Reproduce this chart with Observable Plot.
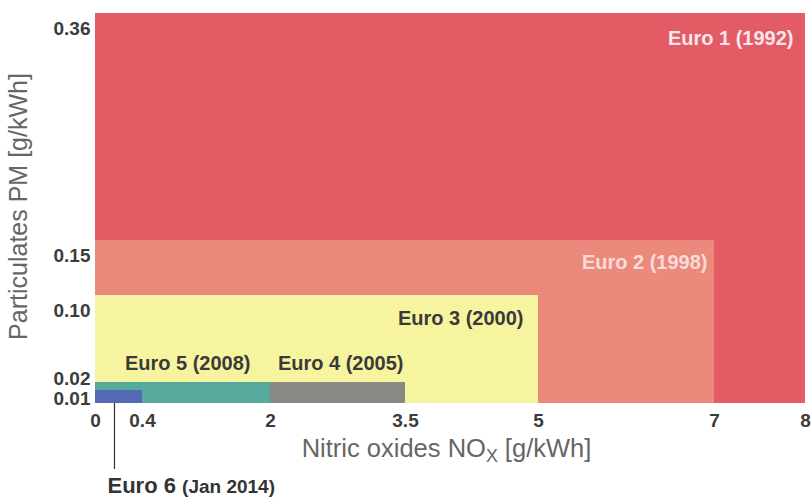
<!DOCTYPE html>
<html><head><meta charset="utf-8">
<script src="https://cdn.jsdelivr.net/npm/d3@7"></script>
<script src="https://cdn.jsdelivr.net/npm/@observablehq/plot@0.6"></script>
<style>body{margin:0;background:#fff}</style>
</head><body><div id="chart"></div>
<script>
const stages = ["Euro 1", "Euro 2", "Euro 3", "Euro 4", "Euro 5", "Euro 6"];
const years = ["(1992)", "(1998)", "(2000)", "(2005)", "(2008)", "(Jan 2014)"];
const noxLimit = [8, 7, 5, 3.5, 2, 0.4];
const pmLimit = [0.36, 0.15, 0.10, 0.02, 0.02, 0.01];
const colors = ["#e35b65", "#ec897d", "#f7f4a0", "#888884", "#55aa9d", "#5468b4"];
const xTicks = [0, 0.4, 2, 3.5, 5, 7, 8];
const yTicks = [0.01, 0.02, 0.10, 0.15, 0.36];
const xTitle = ["Nitric oxides NO", "X", " [g/kWh]"];
const yTitle = "Particulates PM [g/kWh]";

const data = stages.map((s, i) => ({stage: s, year: years[i], label: s + " " + years[i], nox: noxLimit[i], pm: pmLimit[i], color: colors[i]}));
const pick = (i) => [data[i]];
const font = "'Liberation Sans', Arial, sans-serif";
const lab = {x: "nox", y: "pm", text: "label", textAnchor: "end", fontSize: 20, fontWeight: "bold"};
const tickStyle = {tickSize: 0, fontSize: 19, fontWeight: "bold", fill: "#3c3c3c", label: null};

const plot = Plot.plot({
  width: 811, height: 497,
  marginTop: 13, marginBottom: 94, marginLeft: 95, marginRight: 6,
  style: {fontFamily: font, background: "white", overflow: "visible"},
  x: {type: "linear", domain: xTicks, range: [95, 142, 270, 405, 538, 714, 805]},
  y: {type: "linear", domain: [0, ...yTicks], range: [403, 390, 382, 295, 240, 13]},
  marks: [
    Plot.rect(data, {x1: 0, x2: "nox", y1: 0, y2: "pm", fill: "color"}),
    Plot.text(pick(0), {...lab, fill: "#f6e6ec", dx: -12, dy: 25}),
    Plot.text(pick(1), {...lab, fill: "#f8dcd8", dx: -7, dy: 22}),
    Plot.text(pick(2), {...lab, fill: "#3a3a3a", dx: -15, dy: 23}),
    Plot.text(pick(3), {...lab, fill: "#3a3a3a", dx: -2, dy: -19}),
    Plot.text(pick(4), {...lab, fill: "#3a3a3a", dx: -20, dy: -19}),
    Plot.ruleX([0], {y1: 0, y2: 0, dx: 19, insetBottom: -66, stroke: "#333", strokeWidth: 1.2}),
    Plot.text(pick(5), {x: 0, y: 0, text: "label", textAnchor: "start", dx: 12, dy: 82, fontSize: 22, fontWeight: "bold", fill: "#333"}),
    Plot.axisX(xTicks, {...tickStyle, tickPadding: 10, tickFormat: d3.format("~g")}),
    Plot.axisY([0.36, 0.15, 0.10], {...tickStyle, tickPadding: 5, dy: 15, tickFormat: d3.format(".2f")}),
    Plot.axisY([0.02], {...tickStyle, tickPadding: 5, dy: -4, tickFormat: d3.format(".2f")}),
    Plot.axisY([0.01], {...tickStyle, tickPadding: 5, dy: 8, tickFormat: d3.format(".2f")}),
    Plot.text([xTitle.join("")], {frameAnchor: "bottom", lineAnchor: "middle", dx: -4, dy: 45, fontSize: 25.5, fill: "#666"}),
    Plot.text([yTitle], {frameAnchor: "left", textAnchor: "middle", rotate: -90, dx: -77, dy: -2, fontSize: 25, fill: "#666"})
  ]
});

// subscript and mixed sizes
d3.select(plot).selectAll("text").each(function() {
  const t = this.textContent;
  if (t === xTitle.join("")) {
    this.textContent = "";
    const s = d3.select(this);
    s.append("tspan").text(xTitle[0]);
    s.append("tspan").attr("font-size", "0.7em").attr("dy", "0.3em").text(xTitle[1]);
    s.append("tspan").attr("dy", "-0.21em").text(xTitle[2]);
  } else if (t === data[5].label) {
    this.textContent = "";
    const s = d3.select(this);
    s.append("tspan").text(data[5].stage + " ");
    s.append("tspan").attr("font-size", "19px").text(data[5].year);
  }
});
document.getElementById("chart").append(plot);
</script>
</body></html>
